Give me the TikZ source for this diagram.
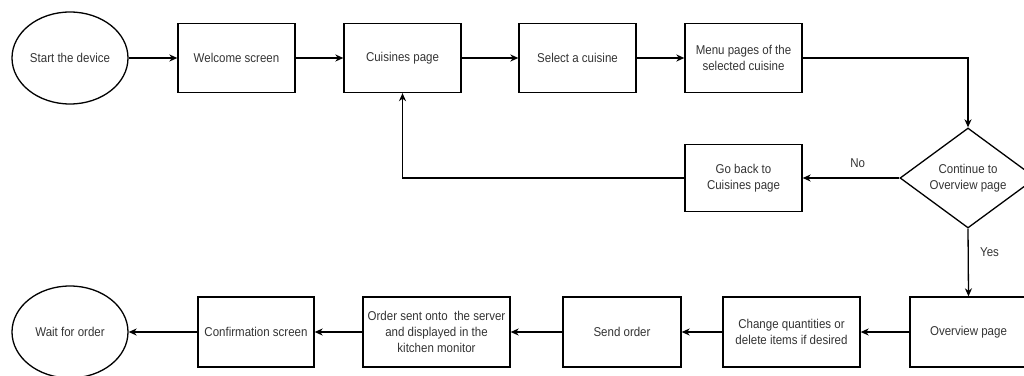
\documentclass[tikz,border=0pt]{standalone}
\usepackage{fontspec}
\setmainfont[FakeStretch=0.9]{Liberation Sans}
\usetikzlibrary{
  shapes.geometric,%
  arrows.meta,%
  positioning
}
\tikzset{>={Stealth[length=8pt, width=7pt, inset=2.5pt]}}
\tikzset{font=\fontsize{12.8}{16}\selectfont}
\tikzset{
  stepbox/.style={draw, rectangle, minimum height=69, text=black!80,
    align=center, inner sep=2pt},
  terminal/.style={draw, ellipse, minimum width=116, minimum height=92,
    text=black!80, inner sep=0pt},
  decision/.style={draw, diamond, aspect=1.36, minimum width=136,
    minimum height=100, text=black!80, align=center, inner sep=0pt},
  flow/.style={->, line width=1.3pt}
}

\begin{document}
\begin{tikzpicture}[x=1pt, y=1pt, line width=1.3pt]
        \useasboundingbox (0, 0) rectangle (1024, 375); %
        \clip (0, 0) rectangle (1024, 375); %
        % top row
        \node[terminal] (start) at (70, 317) {Start the device}; %
        \node[stepbox, minimum width=117] (welcome) at (236.5, 317) {Welcome screen}; %
        \node[stepbox, minimum width=117] (cuisines) at (402.5, 317) {Cuisines page}; %
        \node[stepbox, minimum width=117] (select) at (577.5, 317) {Select a cuisine}; %
        \node[stepbox, minimum width=117] (menu) at (743.5, 317) {Menu pages of the\\selected cuisine}; %
        % middle row
        \node[decision] (cont) at (968, 197) {Continue to\\Overview page}; %
        \node[stepbox, minimum width=117, minimum height=67] (goback) at (743.5, 197) {Go back to\\Cuisines page}; %
        % bottom row
        \node[stepbox, minimum width=117, minimum height=70] (overview) at (968.5, 43) {Overview page}; %
        \node[stepbox, minimum width=137, minimum height=70] (change) at (791.5, 43) {Change quantities or\\delete items if desired}; %
        \node[stepbox, minimum width=118, minimum height=70] (send) at (622, 43) {Send order}; %
        \node[stepbox, minimum width=147, minimum height=70] (sent) at (436.5, 43) {Order sent onto\ \ the server\\and displayed in the\\kitchen monitor}; %
        \node[stepbox, minimum width=116, minimum height=70] (confirm) at (256, 43) {Confirmation screen}; %
        \node[terminal] (wait) at (70, 43) {Wait for order}; %
        % connectors
        \draw[flow] (start) -- (welcome); %
        \draw[flow] (welcome) -- (cuisines); %
        \draw[flow] (cuisines) -- (select); %
        \draw[flow] (select) -- (menu); %
        \draw[flow] (menu.east) -| (cont.north); %
        \draw[flow] (cont.west) -- node[pos=0.43, above=6pt, text=black!80]{No} (goback.east); %
        \draw[flow] (goback.west) -| (cuisines.south); %
        \draw[flow] (cont.south) -- node[pos=0.35, right=8pt, text=black!80]{Yes} (overview.north); %
        \draw[flow] (overview) -- (change); %
        \draw[flow] (change) -- (send); %
        \draw[flow] (send) -- (sent); %
        \draw[flow] (sent) -- (confirm); %
        \draw[flow] (confirm) -- (wait); %
      \end{tikzpicture}
\end{document}
